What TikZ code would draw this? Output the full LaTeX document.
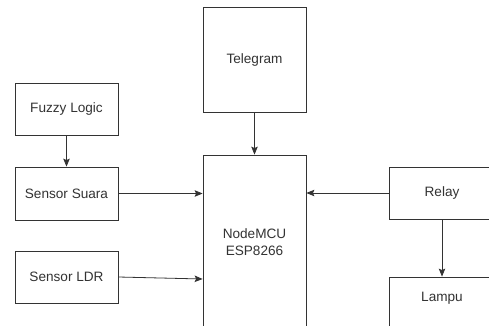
\documentclass[tikz,border=0pt]{standalone}
\usepackage{fontspec}
\setmainfont{Liberation Sans}
\usetikzlibrary{arrows.meta}
\begin{document}
\begin{tikzpicture}[x=1pt,y=-1pt,
  box/.style={draw=black!80, line width=0.8pt, minimum width=103pt, inner sep=0pt,
    font=\fontsize{13.6}{17}\selectfont, text=black!80, align=center},
  conn/.style={draw=black!80, line width=0.8pt, -{Stealth[length=8pt,width=6.5pt,inset=1.5pt]}}]
\useasboundingbox (0,0) rectangle (489,326);
\clip (0,0) rectangle (489,326);
\fill[white] (0,0) rectangle (489,326);
\node[box, minimum height=105pt] (tele) at (254.5,59.5) {Telegram};
\node[box, minimum height=52pt] (fuzzy) at (66.5,109) {Fuzzy Logic};
\node[box, minimum height=53pt] (suara) at (66.5,193.5) {Sensor Suara};
\node[box, minimum height=52pt] (ldr) at (66.5,277) {Sensor LDR};
\node[box, minimum height=174pt] (mcu) at (254.5,242) {NodeMCU\\ESP8266};
\node[box, minimum width=106pt, minimum height=52pt] (relay) at (442,193) {Relay};
\node[box, minimum width=106pt, minimum height=52pt, text depth=11pt, text height=7pt] (lampu) at (442,303) {Lampu};
\draw[conn] (fuzzy.south) -- (suara.north);
\draw[conn] (tele.south) -- (mcu.north);
\draw[conn] (suara.east) -- (mcu.west |- suara.east);
\draw[conn] (ldr.east) -- ([yshift=-2pt]mcu.west |- ldr.east);
\draw[conn] (relay.west) -- (mcu.east |- relay.west);
\draw[conn] (relay.south) -- (lampu.north);
\end{tikzpicture}
\end{document}
